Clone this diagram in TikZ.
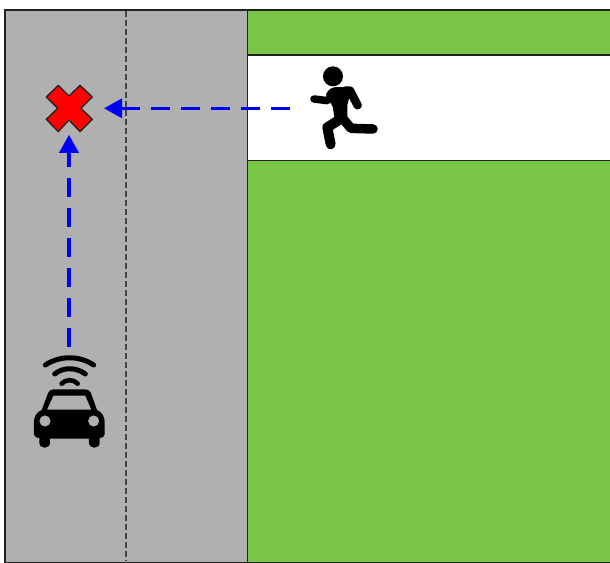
\documentclass[tikz,border=0pt]{standalone}
\usetikzlibrary{arrows.meta}
\definecolor{roadgrey}{HTML}{B0B0B0}
\definecolor{grassgreen}{HTML}{79C548}
\definecolor{edgedark}{HTML}{222222}
\tikzset{
  area/.style={draw=edgedark,line width=1.5pt},
  anchorbox/.style={inner sep=0pt,outer sep=0pt,minimum width=#1},
  flow/.style={draw=blue,line width=3.5pt,dash pattern=on 19pt off 11pt,-{Triangle[length=18pt,width=19pt]}},
  limb/.style={line width=#1,line cap=round,line join=round}
}
\begin{document}
\begin{tikzpicture}[x=1pt,y=-1pt]
\useasboundingbox (0,0) rectangle (610,562);
\fill[white] (0,0) rectangle (610,562);
% ground
\path[area,fill=roadgrey] (5,10) rectangle (247.5,562.4);
\path[area,fill=grassgreen] (247.5,10) rectangle (620,562.4);
\path[area,fill=white] (247.5,55) rectangle (620,160.5);
\draw[edgedark!85,line width=1.5pt,dash pattern=on 5.5pt off 3.5pt] (126,11) -- (126,561);
% named anchors of the three icons
\node[anchorbox=46pt,minimum height=46pt] (crash) at (69,108.3) {};
\node[anchorbox=64pt,minimum height=88pt] (runner) at (343,110) {};
\node[anchorbox=70pt,minimum height=91pt] (car) at (69,401.5) {};
% crash mark
\fill[red,draw=edgedark,line width=1.3pt,line join=round,shift={(crash.center)}]
  (-10.7,-23) -- (0,-12.3) -- (11,-23) -- (23.3,-11.3) -- (12,0) -- (23.3,11) -- (11,23.3)
  -- (0,11.7) -- (-10.7,23.3) -- (-22.7,11) -- (-11.3,0) -- (-22.7,-11.3) -- cycle;
% car (coordinates of a 3x crop)
\begin{scope}[shift={(0,340)},x=0.3333pt,y=-0.3333pt]
  \fill[black,even odd rule]
    (163,148) -- (252,148) .. controls (264,148) and (271,152) .. (275,165)
    -- (291,210) .. controls (306,216) and (314,230) .. (314,245)
    -- (314,283) .. controls (314,291) and (306,294) .. (299,294)
    -- (299,308) .. controls (299,328) and (267,328) .. (267,308) -- (267,296)
    -- (150,296) -- (150,308) .. controls (150,328) and (118,328) .. (118,308)
    -- (118,294) .. controls (110,294) and (102,291) .. (102,283)
    -- (102,245) .. controls (102,230) and (110,216) .. (125,210)
    -- (142,165) .. controls (146,152) and (152,148) .. (163,148) -- cycle
    (160,167) -- (256,167) -- (274,209) -- (141,209) -- cycle
    (135,243) circle [radius=17]
    (281,243) circle [radius=17];
  \draw[limb=5pt] (136,75) .. controls (180,46) and (238,46) .. (281,75);
  \draw[limb=5pt] (164,102) .. controls (190,81) and (228,81) .. (256,102);
  \draw[limb=4.6pt] (185,131) .. controls (198,117) and (220,117) .. (233,131);
\end{scope}
% runner (coordinates of a 3x crop)
\begin{scope}[shift={(290,50)},x=0.3333pt,y=-0.3333pt]
  \fill (129,79) circle [radius=30];
  \fill[line join=round] (108,133) .. controls (115,118) and (125,112) .. (140,111)
    -- (185,113) -- (172,165) -- (172,205) -- (135,212) -- (128,170) -- cycle;
  \draw[limb=8.5pt] (165,122) -- (180,122) -- (203,166);
  \draw[limb=7.5pt] (72,147) -- (112,152) -- (128,132);
  \draw[limb=9.5pt] (152,198) -- (183,235) -- (249,237);
  \draw[limb=10pt] (150,208) -- (112,232) -- (122,283);
\end{scope}
% connectors
\draw[flow,shorten <=21pt,shorten >=12pt] (runner.west |- crash.center) -- (crash.east);
\draw[flow,shorten <=9pt,shorten >=3.5pt] (car.north) -- (crash.south);
\end{tikzpicture}
\end{document}
